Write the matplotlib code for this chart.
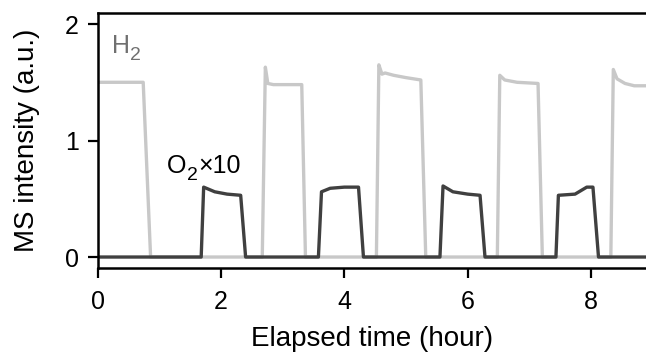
import numpy as np
import matplotlib
matplotlib.use("Agg")
import matplotlib.pyplot as plt

plt.rcParams['font.family'] = ['Liberation Sans', 'DejaVu Sans']

# H2 signal (hour, a.u.)
h2_time = [0, 0.74, 0.86, 2.67, 2.72, 2.76, 2.85, 3.0, 3.31, 3.37,
           4.52, 4.56, 4.61, 4.66, 4.8, 5.0, 5.24, 5.32,
           6.48, 6.52, 6.6, 6.8, 7.14, 7.21,
           8.32, 8.36, 8.42, 8.55, 8.7, 8.9]
h2_val = [1.5, 1.5, 0, 0, 1.63, 1.49, 1.48, 1.48, 1.48, 0,
          0, 1.65, 1.57, 1.58, 1.56, 1.54, 1.52, 0,
          0, 1.56, 1.52, 1.50, 1.49, 0,
          0, 1.61, 1.53, 1.49, 1.47, 1.47]

# O2 signal x10 (hour, a.u.)
o2_time = [0, 1.68, 1.72, 1.9, 2.1, 2.32, 2.40,
           3.58, 3.63, 3.77, 4.0, 4.23, 4.31,
           5.55, 5.6, 5.76, 6.0, 6.2, 6.28,
           7.43, 7.47, 7.74, 7.93, 8.03, 8.12, 8.9]
o2_val = [0, 0, 0.60, 0.56, 0.54, 0.53, 0,
          0, 0.56, 0.59, 0.60, 0.60, 0,
          0, 0.61, 0.56, 0.54, 0.53, 0,
          0, 0.53, 0.54, 0.60, 0.60, 0, 0]

fig = plt.figure(figsize=(6.46, 3.54), dpi=100)
ax = fig.add_axes([0.151, 0.243, 0.849, 0.72])

ax.plot(h2_time, h2_val, color='#c8c8c8', lw=2.4, solid_joinstyle='round')
ax.plot(o2_time, o2_val, color='#404040', lw=2.4, solid_joinstyle='round')

ax.set_xlim(0, 8.89)
ax.set_ylim(-0.094, 2.094)
ax.set_xticks([0, 2, 4, 6, 8])
ax.set_yticks([0, 1, 2])

ax.spines['right'].set_visible(False)
for s in ['left', 'bottom', 'top']:
    ax.spines[s].set_linewidth(1.8)
ax.tick_params(direction='out', length=7.5, width=1.6, labelsize=18)
ax.tick_params(axis='x', pad=8)
ax.tick_params(axis='y', pad=6)

ax.set_xlabel('Elapsed time (hour)', fontsize=20, labelpad=9)
ax.set_ylabel('MS intensity (a.u.)', fontsize=20, labelpad=18)

# labels with big, low subscripts (drawn as separate pieces)
fs, fs_sub = 18, 14
ax.annotate('H', xy=(0.235, 1.75), color='#707070', fontsize=fs, va='baseline')
ax.annotate('2', xy=(0.235, 1.75), xytext=(13.2, -4.8), textcoords='offset points',
            color='#707070', fontsize=fs_sub, va='baseline')

ax.annotate('O', xy=(1.13, 0.72), color='black', fontsize=fs, va='baseline')
ax.annotate('2', xy=(1.13, 0.72), xytext=(14.2, -4.8), textcoords='offset points',
            color='black', fontsize=fs_sub, va='baseline')
ax.annotate('×10', xy=(1.13, 0.72), xytext=(22.0, 0), textcoords='offset points',
            color='black', fontsize=fs, va='baseline')

fig.savefig('out.png', dpi=100)
